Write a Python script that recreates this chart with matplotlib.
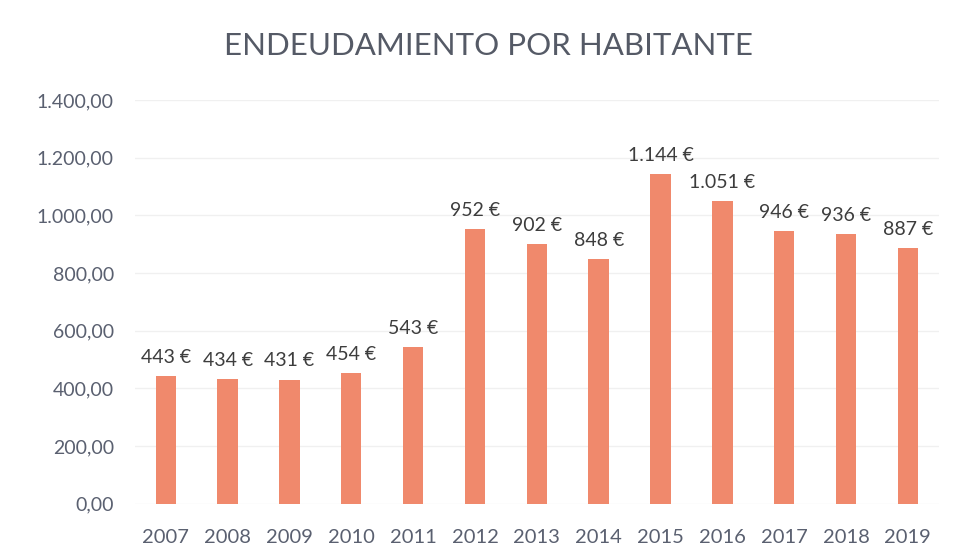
import matplotlib
matplotlib.use("Agg")
import matplotlib.pyplot as plt

years = ["2007", "2008", "2009", "2010", "2011", "2012", "2013", "2014", "2015", "2016", "2017", "2018", "2019"]
values = [443, 434, 431, 454, 543, 952, 902, 848, 1144, 1051, 946, 936, 887]
value_labels = ["443 €", "434 €", "431 €", "454 €", "543 €", "952 €", "902 €", "848 €", "1.144 €", "1.051 €", "946 €", "936 €", "887 €"]
yticks = [0, 200, 400, 600, 800, 1000, 1200, 1400]
ytick_labels = ["0,00", "200,00", "400,00", "600,00", "800,00", "1.000,00", "1.200,00", "1.400,00"]
title = "ENDEUDAMIENTO POR HABITANTE"

plt.rcParams['font.family'] = ['Lato', 'DejaVu Sans']

fig = plt.figure(figsize=(9.56, 5.47), dpi=100)
ax = fig.add_axes([0.141, 0.079, 0.841, 0.738])

x = list(range(len(years)))
bars = ax.bar(x, values, width=0.33, color="#F0896C", zorder=3)
for xi, v, lab in zip(x, values, value_labels):
    ax.text(xi, v + 35, lab, ha="center", va="bottom", fontsize=14, color="#3d3d3d")

ax.set_xlim(-0.5, len(years) - 0.5)
ax.set_ylim(0, 1400)
ax.set_yticks(yticks)
ax.set_yticklabels(ytick_labels, fontsize=14, color="#5a6070")
ax.set_xticks(x)
ax.set_xticklabels(years, fontsize=14.5, color="#5a6070")
ax.tick_params(axis="y", length=0, pad=15)
ax.tick_params(axis="x", length=0, pad=18)
ax.grid(axis="y", color="#f0f0f0", linewidth=1, zorder=0)
for s in ax.spines.values():
    s.set_visible(False)

fig.text(0.5105, 0.915, title, ha="center", va="center", fontsize=22.5, color="#555a66")

fig.savefig("out.png", dpi=100)
